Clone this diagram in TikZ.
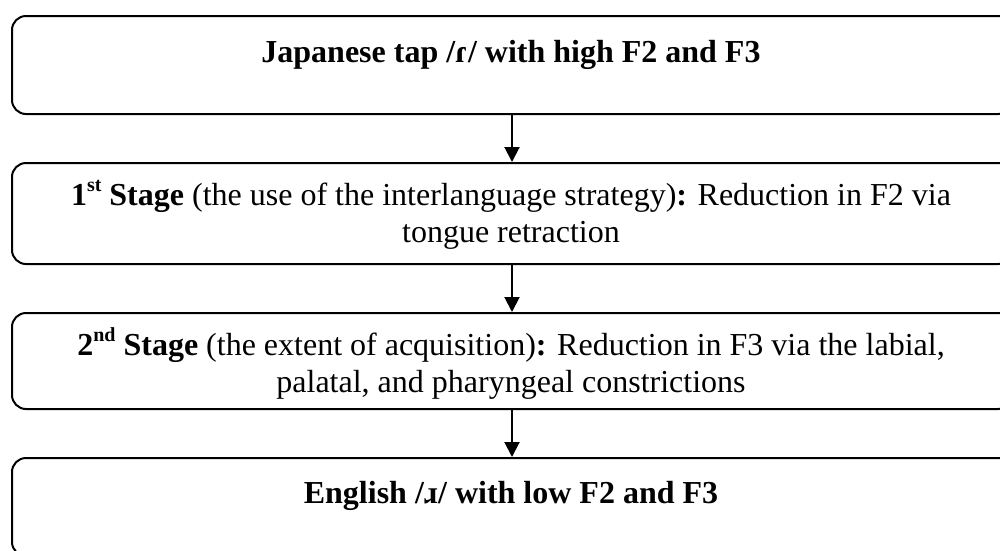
\documentclass[tikz,border=0pt]{standalone}
\usepackage{fontspec}
\setmainfont{Liberation Serif}
\usetikzlibrary{arrows.meta}
\newcommand{\supsc}[1]{\raisebox{14pt}{\fontsize{20pt}{20pt}\selectfont #1}}
\begin{document}
\begin{tikzpicture}[x=1pt,y=-1pt,
  stagebox/.style={draw, line width=2pt, rounded corners=14pt, minimum width=1000pt, inner sep=0pt, anchor=north west},
  stagetext/.style={anchor=base, inner sep=0pt, text width=960pt, align=flush center, font=\fontsize{32pt}{37pt}\selectfont},
  flow/.style={line width=2pt, -{Triangle[width=15pt,length=15pt]}}]
\useasboundingbox (0,0) rectangle (1000,550);
\clip (0,0) rectangle (1000,550);
\node[stagebox, minimum height=98pt] (b1) at (11,15) {};
\node[stagebox, minimum height=101pt] (b2) at (11,162) {};
\node[stagebox, minimum height=96pt] (b3) at (11,312) {};
\node[stagebox, minimum height=98pt] (b4) at (11,457) {};
\node[stagetext] (t1) at (511,62) {\textbf{Japanese tap /ɾ/ with high F2 and F3}};
\node[stagetext] (t2) at (511,205) {\textbf{1\supsc{st} Stage} (the use of the interlanguage strategy)\textbf{:} Reduction in F2 via\\ tongue retraction};
\node[stagetext] (t3) at (511,355) {\textbf{2\supsc{nd} Stage} (the extent of acquisition)\textbf{:} Reduction in F3 via the labial,\\ palatal, and pharyngeal constrictions};
\node[stagetext] (t4) at (511,503) {\textbf{English /ɹ/ with low F2 and F3}};
\draw[flow] (b1.south) -- (b2.north);
\draw[flow] (b2.south) -- (b3.north);
\draw[flow] (b3.south) -- (b4.north);
\end{tikzpicture}
\end{document}
